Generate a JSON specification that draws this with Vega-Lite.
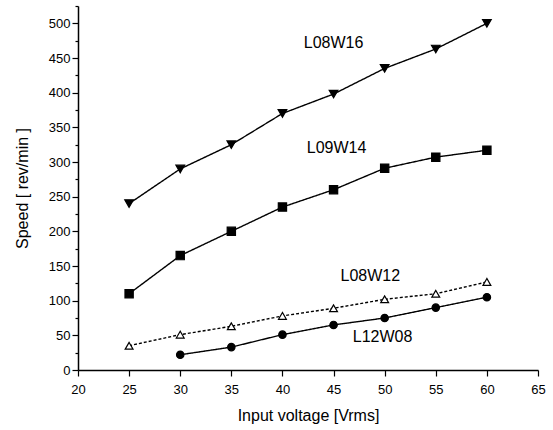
{
  "$schema": "https://vega.github.io/schema/vega-lite/v6.json",
  "width": 460,
  "height": 364,
  "autosize": {"type": "none"},
  "padding": {"left": 78, "top": 6, "right": 15, "bottom": 60},
  "background": "white",
  "config": {
    "view": {"stroke": null},
    "font": "Liberation Sans",
    "text": {"color": "black", "fill": "black"},
    "axis": {
      "domainColor": "black",
      "domainWidth": 1.5,
      "tickColor": "black",
      "tickWidth": 1.2,
      "labelColor": "black",
      "labelFont": "Liberation Sans",
      "labelFontSize": 13,
      "labelOverlap": false,
      "titleFont": "Liberation Sans",
      "titleFontSize": 16,
      "titleFontWeight": "normal",
      "titleColor": "black",
      "grid": false
    }
  },
  "resolve": {"axis": {"y": "independent"}},
  "datasets": {
    "series": [
      {"series": "L08W16", "voltage": 25, "speed": 240},
      {"series": "L08W16", "voltage": 30, "speed": 290},
      {"series": "L08W16", "voltage": 35, "speed": 325},
      {"series": "L08W16", "voltage": 40, "speed": 370},
      {"series": "L08W16", "voltage": 45, "speed": 398},
      {"series": "L08W16", "voltage": 50, "speed": 435},
      {"series": "L08W16", "voltage": 55, "speed": 463},
      {"series": "L08W16", "voltage": 60, "speed": 500},
      {"series": "L09W14", "voltage": 25, "speed": 110},
      {"series": "L09W14", "voltage": 30, "speed": 165},
      {"series": "L09W14", "voltage": 35, "speed": 200},
      {"series": "L09W14", "voltage": 40, "speed": 235},
      {"series": "L09W14", "voltage": 45, "speed": 260},
      {"series": "L09W14", "voltage": 50, "speed": 291},
      {"series": "L09W14", "voltage": 55, "speed": 307},
      {"series": "L09W14", "voltage": 60, "speed": 317},
      {"series": "L08W12", "voltage": 25, "speed": 35},
      {"series": "L08W12", "voltage": 30, "speed": 51},
      {"series": "L08W12", "voltage": 35, "speed": 63},
      {"series": "L08W12", "voltage": 40, "speed": 78},
      {"series": "L08W12", "voltage": 45, "speed": 89},
      {"series": "L08W12", "voltage": 50, "speed": 102},
      {"series": "L08W12", "voltage": 55, "speed": 110},
      {"series": "L08W12", "voltage": 60, "speed": 127},
      {"series": "L12W08", "voltage": 30, "speed": 22},
      {"series": "L12W08", "voltage": 35, "speed": 33},
      {"series": "L12W08", "voltage": 40, "speed": 51},
      {"series": "L12W08", "voltage": 45, "speed": 65},
      {"series": "L12W08", "voltage": 50, "speed": 75},
      {"series": "L12W08", "voltage": 55, "speed": 90},
      {"series": "L12W08", "voltage": 60, "speed": 105}
    ],
    "labels": [
      {"label": "L08W16", "voltage": 45, "speed": 472},
      {"label": "L09W14", "voltage": 45.3, "speed": 320},
      {"label": "L08W12", "voltage": 48.6, "speed": 135},
      {"label": "L12W08", "voltage": 49.8, "speed": 47}
    ]
  },
  "layer": [
    {
      "data": {"name": "series"},
      "mark": {"type": "line", "color": "black", "strokeWidth": 1.4},
      "encoding": {
        "x": {
          "field": "voltage", "type": "quantitative",
          "scale": {"domain": [20, 65], "nice": false, "zero": false},
          "axis": {
            "title": "Input voltage [Vrms]",
            "titleColor": "black",
            "values": [20, 22.5, 25, 27.5, 30, 32.5, 35, 37.5, 40, 42.5, 45, 47.5, 50, 52.5, 55, 57.5, 60, 62.5, 65],
            "labelExpr": "datum.value % 5 === 0 ? datum.label : ''",
            "tickSize": {"expr": "datum.value % 5 === 0 ? 6 : 3"},
            "labelOverlap": false,
            "labelPadding": 7,
            "titlePadding": 11,
            "labelFlush": false
          }
        },
        "y": {
          "field": "speed", "type": "quantitative",
          "scale": {"domain": [0, 525], "nice": false},
          "axis": {
            "title": "Speed  [ rev/min ]",
            "titleColor": "black",
            "values": [0, 50, 100, 150, 200, 250, 300, 350, 400, 450, 500],
            "tickSize": 6,
            "labelOverlap": false,
            "labelPadding": 2,
            "titlePadding": 18,
            "labelFlush": false
          }
        },
        "detail": {"field": "series"},
        "strokeDash": {
          "field": "series", "type": "nominal",
          "scale": {"domain": ["L08W16", "L09W14", "L08W12", "L12W08"], "range": [[1, 0], [1, 0], [3, 2], [1, 0]]},
          "legend": null
        },
        "strokeWidth": {
          "field": "series", "type": "nominal",
          "scale": {"domain": ["L08W16", "L09W14", "L08W12", "L12W08"], "range": [1.4, 1.6, 0.9, 1.3]},
          "legend": null
        }
      }
    },
    {
      "data": {"name": "series"},
      "mark": {"type": "point", "filled": true, "stroke": "black", "strokeWidth": 1.2, "opacity": 1},
      "encoding": {
        "x": {"field": "voltage", "type": "quantitative"},
        "y": {
          "field": "speed", "type": "quantitative",
          "axis": {
            "orient": "left",
            "title": null,
            "labels": false,
            "domain": false,
            "values": [25, 75, 125, 175, 225, 275, 325, 375, 425, 475, 525],
            "tickSize": 3
          }
        },
        "shape": {
          "field": "series", "type": "nominal",
          "scale": {"domain": ["L08W16", "L09W14", "L08W12", "L12W08"], "range": ["triangle-down", "square", "triangle-up", "circle"]},
          "legend": null
        },
        "fill": {
          "field": "series", "type": "nominal",
          "scale": {"domain": ["L08W16", "L09W14", "L08W12", "L12W08"], "range": ["black", "black", "white", "black"]},
          "legend": null
        },
        "size": {
          "field": "series", "type": "nominal",
          "scale": {"domain": ["L08W16", "L09W14", "L08W12", "L12W08"], "range": [75, 55, 35, 50]},
          "legend": null
        }
      }
    },
    {
      "data": {"name": "labels"},
      "mark": {"type": "text", "fontSize": 16, "color": "black", "fill": "black", "font": "Liberation Sans"},
      "encoding": {
        "x": {"field": "voltage", "type": "quantitative"},
        "y": {"field": "speed", "type": "quantitative", "axis": null},
        "text": {"field": "label"}
      }
    }
  ]
}
